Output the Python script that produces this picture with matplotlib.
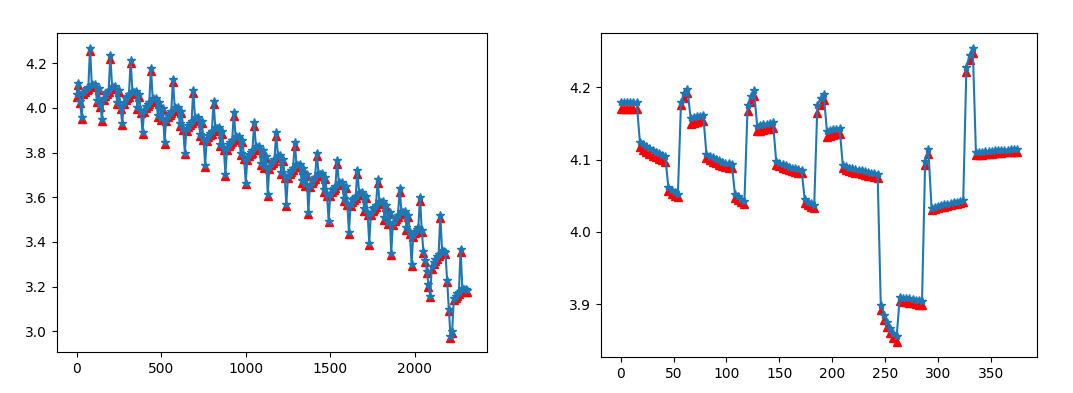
import numpy as np
import matplotlib
matplotlib.use('Agg')
import matplotlib.pyplot as plt
from matplotlib.ticker import MultipleLocator

# left panel: full run, one sample every 10 steps
left_true = [
    4.06, 4.11, 4.03, 3.96, 4.07, 4.08, 4.088, 4.094, 4.27,
    4.107, 4.103, 4.107, 4.035, 4.09, 4.015, 3.95, 4.045, 4.065, 4.073, 4.08, 4.235,
    4.097, 4.093, 4.097, 4.025, 4.08, 4.005, 3.93, 4.025, 4.045, 4.053, 4.06, 4.215,
    4.077, 4.073, 4.077, 4.005, 4.06, 3.985, 3.89, 3.99, 4.01, 4.018, 4.025, 4.18,
    4.042, 4.038, 4.042, 3.97, 4.025, 3.955, 4.0, 3.845, 3.95, 3.97, 3.978, 3.985, 4.13,
    4.002, 3.998, 4.002, 3.93, 3.985, 3.91, 3.80, 3.905, 3.925, 3.933, 3.94, 4.08,
    3.957, 3.953, 3.957, 3.885, 3.94, 3.865, 3.745, 3.86, 3.88, 3.888, 3.895, 4.03,
    3.912, 3.908, 3.912, 3.84, 3.895, 3.82, 3.705, 3.82, 3.84, 3.848, 3.855, 3.98,
    3.872, 3.868, 3.872, 3.80, 3.855, 3.78, 3.665, 3.775, 3.795, 3.803, 3.81, 3.935,
    3.827, 3.823, 3.827, 3.755, 3.81, 3.74, 3.785, 3.615, 3.735, 3.755, 3.763, 3.77, 3.89,
    3.787, 3.787, 3.715, 3.77, 3.695, 3.57, 3.695, 3.715, 3.723, 3.73, 3.845,
    3.747, 3.743, 3.747, 3.675, 3.73, 3.66, 3.705, 3.535, 3.655, 3.675, 3.683, 3.69, 3.80,
    3.707, 3.703, 3.707, 3.635, 3.69, 3.615, 3.495, 3.615, 3.635, 3.643, 3.65, 3.765,
    3.667, 3.663, 3.667, 3.595, 3.65, 3.575, 3.445, 3.57, 3.59, 3.598, 3.605, 3.72,
    3.622, 3.618, 3.622, 3.55, 3.605, 3.53, 3.395, 3.53, 3.55, 3.558, 3.565, 3.68,
    3.582, 3.578, 3.582, 3.51, 3.565, 3.49, 3.535, 3.35, 3.485, 3.505, 3.513, 3.52, 3.64,
    3.537, 3.533, 3.537, 3.465, 3.52, 3.445, 3.30, 3.43, 3.45, 3.458, 3.465, 3.60,
    3.455, 3.36, 3.32, 3.27, 3.21, 3.16, 3.29, 3.31, 3.325, 3.335, 3.345, 3.52,
    3.365, 3.36, 3.355, 3.23, 3.10, 2.98, 3.00, 3.15, 3.16, 3.17, 3.175, 3.37,
    3.195, 3.19, 3.187, 3.185,
]
left_pred = [
    4.05, 4.10, 4.02, 3.952, 4.06, 4.07, 4.078, 4.084, 4.255,
    4.097, 4.093, 4.097, 4.025, 4.08, 4.005, 3.942, 4.035, 4.055, 4.063, 4.07, 4.22,
    4.087, 4.083, 4.087, 4.015, 4.07, 3.995, 3.922, 4.015, 4.035, 4.043, 4.05, 4.20,
    4.067, 4.063, 4.067, 3.995, 4.05, 3.975, 3.882, 3.98, 4.00, 4.008, 4.015, 4.165,
    4.032, 4.028, 4.032, 3.96, 4.015, 3.945, 3.99, 3.837, 3.94, 3.96, 3.968, 3.975, 4.115,
    3.992, 3.988, 3.992, 3.92, 3.975, 3.90, 3.792, 3.895, 3.915, 3.923, 3.93, 4.065,
    3.947, 3.943, 3.947, 3.875, 3.93, 3.855, 3.737, 3.85, 3.87, 3.878, 3.885, 4.015,
    3.902, 3.898, 3.902, 3.83, 3.885, 3.81, 3.697, 3.81, 3.83, 3.838, 3.845, 3.965,
    3.862, 3.858, 3.862, 3.79, 3.845, 3.77, 3.657, 3.765, 3.785, 3.793, 3.80, 3.92,
    3.817, 3.813, 3.817, 3.745, 3.80, 3.73, 3.775, 3.607, 3.725, 3.745, 3.753, 3.76, 3.875,
    3.777, 3.777, 3.705, 3.76, 3.685, 3.562, 3.685, 3.705, 3.713, 3.72, 3.83,
    3.737, 3.733, 3.737, 3.665, 3.72, 3.65, 3.695, 3.527, 3.645, 3.665, 3.673, 3.68, 3.785,
    3.697, 3.693, 3.697, 3.625, 3.68, 3.605, 3.487, 3.605, 3.625, 3.633, 3.64, 3.75,
    3.657, 3.653, 3.657, 3.585, 3.64, 3.565, 3.437, 3.56, 3.58, 3.588, 3.595, 3.705,
    3.612, 3.608, 3.612, 3.54, 3.595, 3.52, 3.387, 3.52, 3.54, 3.548, 3.555, 3.665,
    3.572, 3.568, 3.572, 3.50, 3.555, 3.48, 3.525, 3.342, 3.475, 3.495, 3.503, 3.51, 3.625,
    3.527, 3.523, 3.527, 3.455, 3.51, 3.435, 3.292, 3.42, 3.44, 3.448, 3.455, 3.585,
    3.445, 3.35, 3.31, 3.26, 3.20, 3.152, 3.28, 3.30, 3.315, 3.325, 3.335, 3.505,
    3.355, 3.35, 3.345, 3.22, 3.09, 2.972, 2.99, 3.14, 3.15, 3.16, 3.165, 3.355,
    3.185, 3.18, 3.177, 3.175,
]
left_step = 10

# right panel: zoomed window, one sample every 3 steps
right_true = [
    4.180, 4.180, 4.180, 4.180, 4.180, 4.180,
    4.125, 4.122, 4.119, 4.116, 4.113, 4.111, 4.109, 4.107, 4.105,
    4.062, 4.058, 4.055, 4.052,
    4.180, 4.192, 4.198,
    4.158, 4.159, 4.160, 4.161, 4.162,
    4.108, 4.105, 4.103, 4.101, 4.099, 4.097, 4.096, 4.095, 4.094,
    4.052, 4.049, 4.046, 4.043,
    4.175, 4.188, 4.197,
    4.147, 4.148, 4.149, 4.150, 4.151, 4.152,
    4.098, 4.096, 4.094, 4.092, 4.090, 4.089, 4.088, 4.087, 4.086,
    4.045, 4.042, 4.040, 4.037,
    4.175, 4.185, 4.191,
    4.140, 4.141, 4.142, 4.143, 4.144,
    4.093, 4.091, 4.089, 4.088, 4.087, 4.086, 4.085, 4.084, 4.083, 4.082, 4.081, 4.080,
    3.898, 3.885, 3.875, 3.867, 3.860, 3.855,
    3.910, 3.909, 3.909, 3.908, 3.907, 3.906, 3.905, 3.904,
    4.098, 4.115,
    4.033, 4.034, 4.036, 4.037, 4.038, 4.039, 4.040, 4.041, 4.042, 4.043, 4.044,
    4.228, 4.245, 4.255,
    4.111, 4.111, 4.111, 4.112, 4.112, 4.112, 4.113, 4.113, 4.113, 4.114, 4.114,
    4.115, 4.115, 4.115,
]
right_pred = [
    4.170, 4.170, 4.170, 4.170, 4.170, 4.170,
    4.117, 4.114, 4.111, 4.108, 4.105, 4.103, 4.101, 4.099, 4.097,
    4.057, 4.053, 4.050, 4.048,
    4.175, 4.185, 4.192,
    4.150, 4.151, 4.152, 4.153, 4.154,
    4.102, 4.099, 4.097, 4.095, 4.093, 4.091, 4.090, 4.089, 4.088,
    4.047, 4.044, 4.041, 4.039,
    4.168, 4.180, 4.188,
    4.139, 4.140, 4.141, 4.142, 4.143, 4.144,
    4.093, 4.091, 4.089, 4.087, 4.085, 4.084, 4.083, 4.082, 4.081,
    4.040, 4.037, 4.035, 4.033,
    4.165, 4.176, 4.183,
    4.132, 4.133, 4.134, 4.135, 4.136,
    4.088, 4.086, 4.084, 4.083, 4.082, 4.081, 4.080, 4.079, 4.078, 4.077, 4.076, 4.075,
    3.892, 3.878, 3.868, 3.860, 3.853, 3.847,
    3.904, 3.903, 3.903, 3.902, 3.901, 3.900, 3.899, 3.898,
    4.092, 4.108,
    4.030, 4.031, 4.033, 4.034, 4.035, 4.036, 4.037, 4.038, 4.039, 4.040, 4.041,
    4.222, 4.238, 4.248,
    4.107, 4.107, 4.107, 4.108, 4.108, 4.108, 4.109, 4.109, 4.109, 4.110, 4.110,
    4.111, 4.111, 4.111,
]
right_step = 3

fig = plt.figure(figsize=(10.73, 3.93), dpi=100)
ax1 = fig.add_axes([0.0531, 0.1043, 0.4007, 0.8117])
ax2 = fig.add_axes([0.5601, 0.0916, 0.4063, 0.8244])

x_left = np.arange(len(left_true)) * left_step
ax1.plot(x_left, left_pred, 'r^')
ax1.plot(x_left, left_true, '-*', color='C0')

x_right = np.arange(len(right_true)) * right_step
ax2.plot(x_right, right_pred, 'r^')
ax2.plot(x_right, right_true, '-*', color='C0')
ax2.yaxis.set_major_locator(MultipleLocator(0.1))

fig.savefig('out.png', dpi=100)
